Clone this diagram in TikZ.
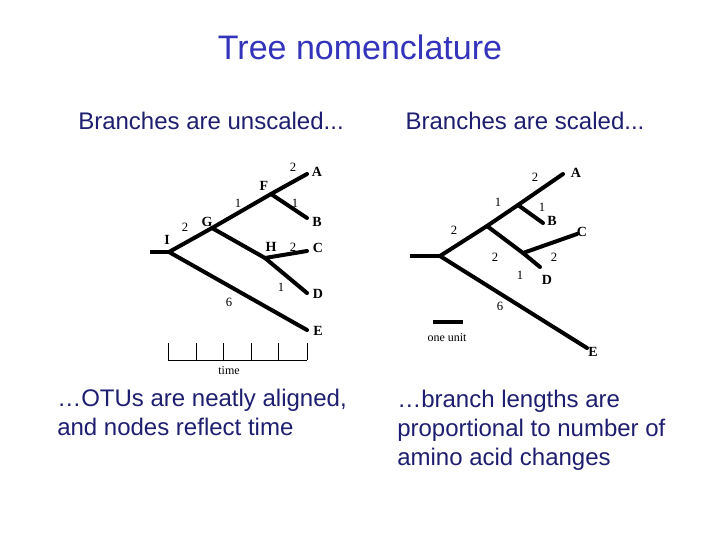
\documentclass[tikz,border=0pt]{standalone}
\usepackage{fontspec}
\setmainfont{Liberation Serif}
\setsansfont{Liberation Sans}
\definecolor{titleblue}{RGB}{51,51,187}
\definecolor{textnavy}{RGB}{30,30,112}
\begin{document}
\begin{tikzpicture}[x=0.75pt,y=-0.75pt,
  branch/.style={line width=3pt,line cap=round},
  thin/.style={line width=0.75pt},
  otu/.style={font=\fontsize{10.5}{12}\selectfont\bfseries,inner sep=0pt},
  num/.style={font=\fontsize{9.5}{11}\selectfont,inner sep=0pt},
  small/.style={font=\fontsize{9}{11}\selectfont,inner sep=0pt},
  heading/.style={font=\sffamily\fontsize{18}{21.75}\selectfont,text=textnavy,inner sep=0pt},
  body/.style={font=\sffamily\fontsize{18}{21.75}\selectfont,text=textnavy,inner sep=0pt,anchor=base west}]
\useasboundingbox (0,0) rectangle (720,540);
% title
\node[font=\sffamily\fontsize{25.5}{30}\selectfont,text=titleblue,inner sep=0pt] (title) at (360,47) {Tree nomenclature};
\node[heading] (hl) at (211,121) {Branches are unscaled...};
\node[heading] (hr) at (525,121) {Branches are scaled...};
% ---------- left tree ----------
\coordinate (l0) at (150,252);
\coordinate (lI) at (169,252);
\coordinate (lG) at (212,228);
\coordinate (lF) at (271,194);
\coordinate (lH) at (265,258);
\coordinate (lA) at (307,174);
\coordinate (lB) at (307,218);
\coordinate (lC) at (307,251);
\coordinate (lD) at (307,293);
\coordinate (lE) at (307,330);
\draw[branch,line cap=butt] (l0) -- (lI);
\draw[branch] (lI) -- (lG) -- (lF) -- (lA);
\draw[branch] (lF) -- (lB);
\draw[branch] (lG) -- (lH) -- (lC);
\draw[branch] (lH) -- (lD);
\draw[branch] (lI) -- (lE);
\node[otu] (tI) at (167,240) {I};
\node[num] (n1) at (185,227) {2};
\node[otu] (tG) at (207,222) {G};
\node[num] (n2) at (238,203) {1};
\node[otu] (tF) at (264,186) {F};
\node[num] (n3) at (293,167) {2};
\node[otu] (tA) at (317,172) {A};
\node[num] (n4) at (295,203) {1};
\node[otu] (tB) at (317,222) {B};
\node[otu] (tH) at (271,247) {H};
\node[num] (n5) at (293,247) {2};
\node[otu] (tC) at (318,248) {C};
\node[num] (n6) at (281,287) {1};
\node[otu] (tD) at (318,294) {D};
\node[num] (n7) at (229,302) {6};
\node[otu] (tE) at (318,331) {E};
% time axis
\coordinate (t0) at (168,360);
\coordinate (t5) at (307,360);
\draw[thin] (t0) -- (t5);
\foreach \x/\n in {168/a,196/b,223/c,251/d,278/e,307/f}
  \draw[thin] (\x,343) coordinate (tk\n) -- (\x,360);
\node[small] (time) at (229,371) {time};
% ---------- right tree ----------
\coordinate (r0) at (410,256);
\coordinate (rR) at (440,256);
\coordinate (rJ) at (487,226);
\coordinate (rK) at (518,205);
\coordinate (rL) at (523,253);
\coordinate (rA) at (563,174);
\coordinate (rB) at (543,223);
\coordinate (rC) at (577,234);
\coordinate (rD) at (540,267);
\coordinate (rE) at (587,348);
\draw[branch,line cap=butt] (r0) -- (rR);
\draw[branch] (rR) -- (rJ) -- (rK) -- (rA);
\draw[branch] (rK) -- (rB);
\draw[branch] (rJ) -- (rL) -- (rC);
\draw[branch] (rL) -- (rD);
\draw[branch] (rR) -- (rE);
\node[num] (m1) at (535,177) {2};
\node[otu] (sA) at (576,173) {A};
\node[num] (m2) at (498,202) {1};
\node[num] (m3) at (542,207) {1};
\node[otu] (sB) at (552,221) {B};
\node[otu] (sC) at (582,232) {C};
\node[num] (m4) at (454,230) {2};
\node[num] (m5) at (495,257) {2};
\node[num] (m6) at (554,257) {2};
\node[num] (m7) at (520,275) {1};
\node[otu] (sD) at (547,280) {D};
\node[num] (m8) at (500,306) {6};
\node[otu] (sE) at (593,352) {E};
% scale bar
\coordinate (u0) at (433,322);
\coordinate (u1) at (463,322);
\draw[branch,line cap=butt] (u0) -- (u1);
\node[small] (unit) at (447,338) {one unit};
% ---------- captions ----------
\node[body] (bl1) at (57,406.5) {…OTUs are neatly aligned,};
\node[body] (bl2) at (57,435.5) {and nodes reflect time};
\node[body] (br1) at (397,407.5) {…branch lengths are};
\node[body] (br2) at (397,436.5) {proportional to number of};
\node[body] (br3) at (397,465.5) {amino acid changes};
\end{tikzpicture}
\end{document}
